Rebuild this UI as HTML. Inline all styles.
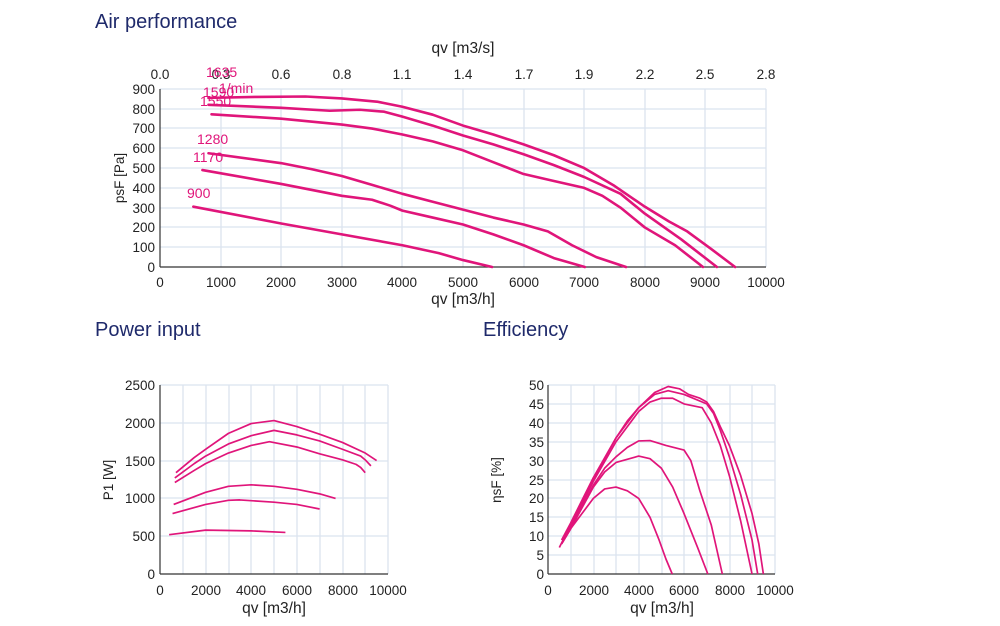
<!DOCTYPE html>
<html><head><meta charset="utf-8"><style>
body{margin:0;background:#fff;}
svg{display:block;font-family:"Liberation Sans",sans-serif;}
.t{fill:#1f2a6b;font-size:20px;}
.k{font-size:13.5px;fill:#222;}
.g line{stroke:#dbe3ef;stroke-width:1.3;}
.c polyline{fill:none;stroke:#e0157a;stroke-width:2.6;stroke-linejoin:round;stroke-linecap:round;}
.s polyline{fill:none;stroke:#e0157a;stroke-width:1.7;stroke-linejoin:round;}
.p{fill:#e0157a;font-size:14px;}
</style></head><body>
<svg width="1000" height="626" viewBox="0 0 1000 626">
<text class="t" x="95" y="28">Air performance</text>
<text class="t" x="95" y="336">Power input</text>
<text class="t" x="483" y="336">Efficiency</text>

<!-- TOP CHART -->
<g class="g">
<line x1="221" y1="89" x2="221" y2="267"/><line x1="281" y1="89" x2="281" y2="267"/><line x1="342" y1="89" x2="342" y2="267"/><line x1="402" y1="89" x2="402" y2="267"/><line x1="463" y1="89" x2="463" y2="267"/><line x1="524" y1="89" x2="524" y2="267"/><line x1="584" y1="89" x2="584" y2="267"/><line x1="645" y1="89" x2="645" y2="267"/><line x1="705" y1="89" x2="705" y2="267"/><line x1="766" y1="89" x2="766" y2="267"/>
<line x1="160" y1="89" x2="766" y2="89"/><line x1="160" y1="109" x2="766" y2="109"/><line x1="160" y1="128" x2="766" y2="128"/><line x1="160" y1="148" x2="766" y2="148"/><line x1="160" y1="168" x2="766" y2="168"/><line x1="160" y1="188" x2="766" y2="188"/><line x1="160" y1="208" x2="766" y2="208"/><line x1="160" y1="227" x2="766" y2="227"/><line x1="160" y1="247" x2="766" y2="247"/>
</g>
<g stroke="#333" stroke-width="1.2">
<line x1="160" y1="89" x2="160" y2="267"/><line x1="160" y1="267" x2="766" y2="267"/>
</g>
<g class="k" text-anchor="end">
<text x="155" y="94">900</text><text x="155" y="114">800</text><text x="155" y="133">700</text><text x="155" y="153">600</text><text x="155" y="173">500</text><text x="155" y="193">400</text><text x="155" y="213">300</text><text x="155" y="232">200</text><text x="155" y="252">100</text><text x="155" y="272">0</text>
</g>
<g class="k" text-anchor="middle">
<text x="160" y="287">0</text><text x="221" y="287">1000</text><text x="281" y="287">2000</text><text x="342" y="287">3000</text><text x="402" y="287">4000</text><text x="463" y="287">5000</text><text x="524" y="287">6000</text><text x="584" y="287">7000</text><text x="645" y="287">8000</text><text x="705" y="287">9000</text><text x="766" y="287">10000</text>
<text x="160" y="79">0.0</text><text x="221" y="79">0.3</text><text x="281" y="79">0.6</text><text x="342" y="79">0.8</text><text x="402" y="79">1.1</text><text x="463" y="79">1.4</text><text x="524" y="79">1.7</text><text x="584" y="79">1.9</text><text x="645" y="79">2.2</text><text x="705" y="79">2.5</text><text x="766" y="79">2.8</text>
<text x="463" y="304" font-size="15.5">qv [m3/h]</text>
<text x="463" y="53" font-size="15.5">qv [m3/s]</text>
</g>
<text class="k" font-size="16" transform="translate(124,178) rotate(-90)" text-anchor="middle">psF [Pa]</text>
<g class="p">
<text x="206" y="77">1635</text><text x="219" y="93">1/min</text><text x="203" y="97">1590</text><text x="200" y="106">1550</text><text x="197" y="144">1280</text><text x="193" y="162">1170</text><text x="187" y="198">900</text>
</g>
<g transform="translate(160,267) scale(0.0606,-0.1978)" class="c">
<polyline vector-effect="non-scaling-stroke" points="800,855 1600,860 2400,862 3000,852 3600,835 4000,810 4500,770 5000,715 5500,670 6000,620 6500,565 7000,500 7500,410 8000,305 8400,230 8700,180 9100,90 9490,0"/>
<polyline vector-effect="non-scaling-stroke" points="800,820 2000,805 2800,790 3300,795 3700,785 4000,760 4500,715 5000,665 5500,620 6000,570 6500,515 7000,455 7600,370 8000,270 8600,140 9190,0"/>
<polyline vector-effect="non-scaling-stroke" points="850,772 2000,750 3000,720 3500,700 4000,670 4500,635 5000,590 5500,530 6000,470 6500,435 7000,400 7300,360 7600,300 8000,200 8500,110 8960,0"/>
<polyline vector-effect="non-scaling-stroke" points="800,575 2000,525 2500,495 3000,460 3500,415 4000,370 4500,330 5000,290 5500,250 6000,215 6400,180 6800,110 7200,50 7690,0"/>
<polyline vector-effect="non-scaling-stroke" points="700,490 2000,420 3000,360 3500,340 3800,310 4000,285 4500,250 5000,215 5500,165 6000,110 6500,45 7010,0"/>
<polyline vector-effect="non-scaling-stroke" points="550,305 2000,220 3000,165 4000,110 4600,70 5000,35 5480,0"/>
</g>

<!-- POWER CHART -->
<g class="g">
<line x1="183" y1="385" x2="183" y2="574"/><line x1="206" y1="385" x2="206" y2="574"/><line x1="229" y1="385" x2="229" y2="574"/><line x1="251" y1="385" x2="251" y2="574"/><line x1="274" y1="385" x2="274" y2="574"/><line x1="297" y1="385" x2="297" y2="574"/><line x1="320" y1="385" x2="320" y2="574"/><line x1="343" y1="385" x2="343" y2="574"/><line x1="365" y1="385" x2="365" y2="574"/><line x1="388" y1="385" x2="388" y2="574"/>
<line x1="160" y1="385" x2="388" y2="385"/><line x1="160" y1="423" x2="388" y2="423"/><line x1="160" y1="461" x2="388" y2="461"/><line x1="160" y1="498" x2="388" y2="498"/><line x1="160" y1="536" x2="388" y2="536"/>
</g>
<g stroke="#333" stroke-width="1.2">
<line x1="160" y1="385" x2="160" y2="574"/><line x1="160" y1="574" x2="388" y2="574"/>
</g>
<g class="k" text-anchor="end">
<text x="155" y="390">2500</text><text x="155" y="428">2000</text><text x="155" y="466">1500</text><text x="155" y="503">1000</text><text x="155" y="541">500</text><text x="155" y="579">0</text>
</g>
<g class="k" text-anchor="middle">
<text x="160" y="595">0</text><text x="206" y="595">2000</text><text x="251" y="595">4000</text><text x="297" y="595">6000</text><text x="343" y="595">8000</text><text x="388" y="595">10000</text>
<text x="274" y="613" font-size="15.5">qv [m3/h]</text>
</g>
<text class="k" font-size="16" transform="translate(113,480) rotate(-90)" text-anchor="middle">P1 [W]</text>
<g transform="translate(160,574) scale(0.0228,-0.0756)" class="s">
<polyline vector-effect="non-scaling-stroke" points="700,1340 1500,1540 2000,1650 3000,1860 4000,1990 5000,2030 6000,1950 7000,1850 8000,1740 9000,1600 9500,1500"/>
<polyline vector-effect="non-scaling-stroke" points="650,1270 1500,1460 2000,1560 3000,1720 4000,1830 5000,1900 6000,1840 7000,1760 8000,1650 8800,1560 9000,1510 9250,1430"/>
<polyline vector-effect="non-scaling-stroke" points="650,1210 1500,1370 2000,1460 3000,1600 4000,1700 4800,1750 6000,1680 7000,1590 8000,1510 8600,1450 8800,1410 9000,1340"/>
<polyline vector-effect="non-scaling-stroke" points="600,920 2000,1080 3000,1160 4000,1180 5000,1160 6000,1120 7000,1060 7700,1000"/>
<polyline vector-effect="non-scaling-stroke" points="550,800 2000,920 3000,975 3500,980 4000,970 5000,950 6000,920 7000,860"/>
<polyline vector-effect="non-scaling-stroke" points="400,520 2000,580 3000,575 4000,570 5500,550"/>
</g>

<!-- EFFICIENCY CHART -->
<g class="g">
<line x1="571" y1="385" x2="571" y2="574"/><line x1="594" y1="385" x2="594" y2="574"/><line x1="616" y1="385" x2="616" y2="574"/><line x1="639" y1="385" x2="639" y2="574"/><line x1="662" y1="385" x2="662" y2="574"/><line x1="684" y1="385" x2="684" y2="574"/><line x1="707" y1="385" x2="707" y2="574"/><line x1="730" y1="385" x2="730" y2="574"/><line x1="752" y1="385" x2="752" y2="574"/><line x1="775" y1="385" x2="775" y2="574"/>
<line x1="548" y1="385" x2="775" y2="385"/><line x1="548" y1="404" x2="775" y2="404"/><line x1="548" y1="423" x2="775" y2="423"/><line x1="548" y1="442" x2="775" y2="442"/><line x1="548" y1="461" x2="775" y2="461"/><line x1="548" y1="480" x2="775" y2="480"/><line x1="548" y1="498" x2="775" y2="498"/><line x1="548" y1="517" x2="775" y2="517"/><line x1="548" y1="536" x2="775" y2="536"/><line x1="548" y1="555" x2="775" y2="555"/>
</g>
<g stroke="#333" stroke-width="1.2">
<line x1="548" y1="385" x2="548" y2="574"/><line x1="548" y1="574" x2="775" y2="574"/>
</g>
<g class="k" text-anchor="end">
<text x="544" y="390">50</text><text x="544" y="409">45</text><text x="544" y="428">40</text><text x="544" y="447">35</text><text x="544" y="466">30</text><text x="544" y="485">25</text><text x="544" y="503">20</text><text x="544" y="522">15</text><text x="544" y="541">10</text><text x="544" y="560">5</text><text x="544" y="579">0</text>
</g>
<g class="k" text-anchor="middle">
<text x="548" y="595">0</text><text x="594" y="595">2000</text><text x="639" y="595">4000</text><text x="684" y="595">6000</text><text x="730" y="595">8000</text><text x="775" y="595">10000</text>
<text x="662" y="613" font-size="15.5">qv [m3/h]</text>
</g>
<text class="k" font-size="16" transform="translate(501,480) rotate(-90)" text-anchor="middle">ηsF [%]</text>
<g transform="translate(548,574) scale(0.02267,-3.78)" class="s">
<polyline vector-effect="non-scaling-stroke" points="500,7 1000,13 1500,19 2000,25 2500,30.5 3000,36 3500,40.5 4000,44 4700,48 5300,49.6 5800,49 6200,47.5 6700,46.5 7000,45.5 7300,43 7600,39 8000,34 8500,26 9000,16 9300,8 9500,0"/>
<polyline vector-effect="non-scaling-stroke" points="600,9 1000,13.5 1500,19.5 2000,25.5 3000,36 4000,44 4700,47.5 5300,48.5 6000,47.5 7000,45 7300,42.5 7600,38 8000,31 8500,21 9000,9 9250,0"/>
<polyline vector-effect="non-scaling-stroke" points="600,8 1000,12.5 2000,24.5 3000,35 4000,43 4500,45.5 5000,46.5 5500,46.5 6000,45 6800,44 7200,40 7600,34 8000,26 8500,14 9000,0"/>
<polyline vector-effect="non-scaling-stroke" points="600,8 1000,12 2000,23.5 2500,28 3000,31 3500,33.5 4000,35.2 4500,35.3 5200,34 6000,32.8 6300,30 6700,22 7200,13 7690,0"/>
<polyline vector-effect="non-scaling-stroke" points="600,8 1000,12 2000,23 2500,27 3000,29.5 4000,31.2 4500,30.5 5000,28 5500,23 6000,16 6600,7 7050,0"/>
<polyline vector-effect="non-scaling-stroke" points="600,8 1000,12 1500,16 2000,20 2500,22.5 3000,23 3500,22 4000,20 4500,15 4900,9 5200,4 5480,0"/>
</g>
</svg>
</body></html>
